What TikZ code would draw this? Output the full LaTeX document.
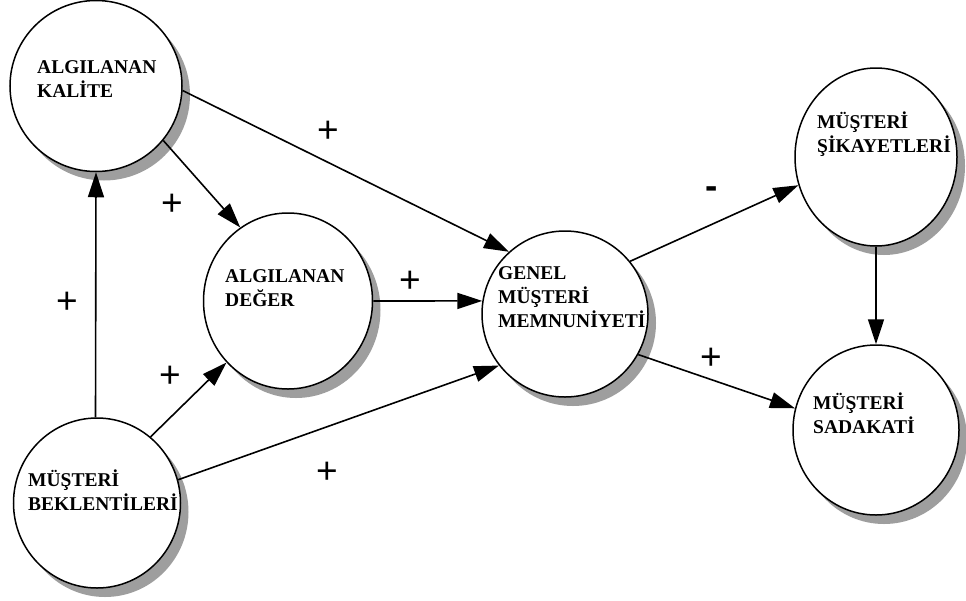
\documentclass[tikz,border=0pt]{standalone}
\usepackage{fontspec}
\setmainfont{Liberation Serif}
\newfontfamily\signfont{Liberation Sans}
\usetikzlibrary{shapes.geometric,arrows.meta,shadows}

\tikzset{
  concept/.style={ellipse, draw=black, line width=1.5pt, fill=white, inner sep=0pt,
    drop shadow={shadow xshift=8pt, shadow yshift=-9pt, fill=black!38, opacity=1}},
  label/.style={anchor=base west, inner sep=0pt, align=left,
    font=\fontsize{19.5}{24}\selectfont\bfseries},
  link/.style={line width=1.6pt, -{Triangle[length=25pt,width=16pt]}},
  sign/.style={inner sep=0pt, font=\signfont\fontsize{37}{37}\selectfont}
}

\begin{document}
\begin{tikzpicture}[x=1pt,y=-1pt]
  \useasboundingbox (0,0) rectangle (966,600);

  % concepts
  \node[concept, minimum width=172pt, minimum height=171pt] (kalite)   at (96,86)   {};
  \node[concept, minimum width=169pt, minimum height=176pt] (deger)    at (288,301) {};
  \node[concept, minimum width=166pt, minimum height=166pt] (genel)    at (565,314) {};
  \node[concept, minimum width=162pt, minimum height=178pt] (sikayet)  at (876,157) {};
  \node[concept, minimum width=166pt, minimum height=170pt] (sadakat)  at (876,430) {};
  \node[concept, minimum width=167pt, minimum height=170pt] (beklenti) at (97,503)  {};

  % links
  \draw[link] (kalite.-3)    -- (genel.132);
  \draw[link] (kalite.-39)   -- (deger.123);
  \draw[link] (beklenti.91)  -- (kalite.-90);
  \draw[link] (beklenti.51)  -- (deger.-135);
  \draw[link] (beklenti.16)  -- (genel.-142);
  \draw[link] (deger.east)   -- (genel.171);
  \draw[link] (genel.39.5)   -- (sikayet.-160);
  \draw[link] (genel.-29)    -- (sadakat.165);
  \draw[link] (sikayet.south) -- (sadakat.north);

  % concept names (anchored on the baseline of the last line)
  \node[label] (tkalite)   at (37,97)   {ALGILANAN\\KALİTE};
  \node[label] (tdeger)    at (225,306) {ALGILANAN\\DEĞER};
  \node[label] (tgenel)    at (498,327) {GENEL\\MÜŞTERİ\\MEMNUNİYETİ};
  \node[label] (tsikayet)  at (817,152) {MÜŞTERİ\\ŞİKAYETLERİ};
  \node[label] (tsadakat)  at (813,433) {MÜŞTERİ\\SADAKATİ};
  \node[label] (tbeklenti) at (28,510)  {MÜŞTERİ\\BEKLENTİLERİ};

  % signs
  \node[sign] (s1) at (328,132) {+};
  \node[sign] (s2) at (172,205) {+};
  \node[sign] (s3) at (67,303)  {+};
  \node[sign] (s4) at (410,282) {+};
  \node[sign] (s5) at (170,377) {+};
  \node[sign] (s6) at (327,473) {+};
  \node[sign, font=\signfont\bfseries\fontsize{37}{37}\selectfont] (s7) at (712,193) {-};
  \node[sign] (s8) at (711,359) {+};
\end{tikzpicture}
\end{document}
